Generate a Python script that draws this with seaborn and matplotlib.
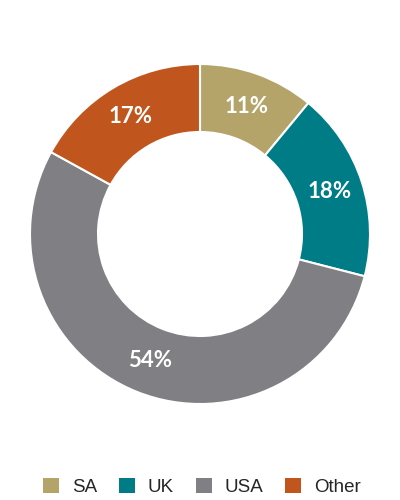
'''
Donut chart: share by region
'''
import numpy as np
import seaborn as sns
import matplotlib.pyplot as plt
from matplotlib.patches import Patch

labels = ['SA', 'UK', 'USA', 'Other']
shares = [11, 18, 54, 17]
colors = ['#b5a46a', '#007c87', '#808084', '#c0561d']

sns.set_theme(style='white')
plt.rcParams['font.family'] = ['Liberation Sans', 'DejaVu Sans']

fig = plt.figure(figsize=(4, 5), dpi=100)
ax = fig.add_axes([0.075, 0.192, 0.85, 0.68])

wedges, texts = ax.pie(shares, colors=colors, startangle=90, counterclock=False,
                       radius=1, wedgeprops=dict(width=0.4, edgecolor='white', linewidth=1.5))

# percentage labels in the middle of the ring
for w, s in zip(wedges, shares):
    mid = np.deg2rad((w.theta1 + w.theta2) / 2)
    r = 0.8
    ax.text(r * np.cos(mid), r * np.sin(mid), f'{s}%', ha='center', va='center',
            color='white', fontsize=16, fontweight='bold', family=['Lato', 'DejaVu Sans'])

ax.set_xlim(-1, 1)
ax.set_ylim(-1, 1)
ax.set_aspect('equal')
ax.axis('off')

handles = [Patch(facecolor=c, edgecolor='none') for c in colors]
fig.legend(handles, labels, loc='center', bbox_to_anchor=(0.505, 0.026), ncol=4,
           frameon=False, fontsize=13.5, handlelength=0.85, handleheight=0.85,
           handletextpad=0.7, columnspacing=1.15)

fig.savefig('out.png', dpi=100)
